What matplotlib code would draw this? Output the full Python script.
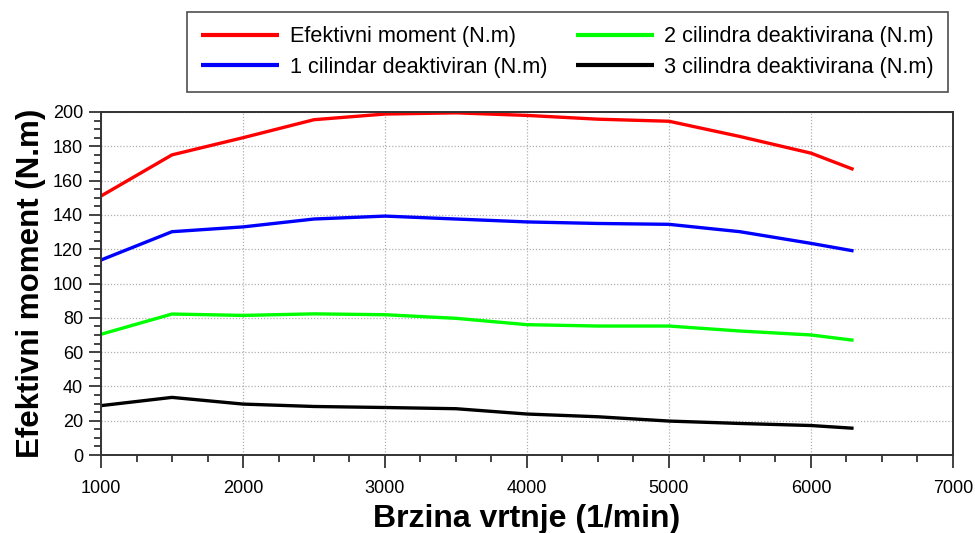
import matplotlib
matplotlib.use("Agg")
import matplotlib.pyplot as plt
from matplotlib.ticker import MultipleLocator

plt.rcParams['font.family'] = ['Liberation Sans', 'DejaVu Sans']

# brzina vrtnje (1/min)
rpm = [1000, 1500, 2000, 2500, 3000, 3500, 4000, 4500, 5000, 5500, 6000, 6300]

# momenti (N.m), procitano sa slike
efektivni = [151, 175, 185, 195.5, 198.8, 199.5, 198, 195.8, 194.6, 185.7, 176, 166.5]
jedan_cil = [113.7, 130.2, 133, 137.6, 139.3, 137.6, 135.9, 135, 134.5, 130.2, 123.4, 119]
dva_cil = [70.4, 82.2, 81.4, 82.3, 81.8, 79.7, 76, 75.2, 75.2, 72.3, 70, 66.9]
tri_cil = [28.8, 33.6, 29.7, 28.3, 27.7, 27, 23.9, 22.3, 19.8, 18.4, 17.2, 15.6]

labels = ["Efektivni moment (N.m)", "1 cilindar deaktiviran (N.m)",
          "2 cilindra deaktivirana (N.m)", "3 cilindra deaktivirana (N.m)"]
colors = ["#ff0000", "#0000ff", "#00ff00", "#000000"]

fig = plt.figure(figsize=(9.75, 5.33), dpi=100)
ax = fig.add_axes([0.1036, 0.1463, 0.8738, 0.6436])

lines = []
for ys, lab, col in zip([efektivni, jedan_cil, dva_cil, tri_cil], labels, colors):
    ln, = ax.plot(rpm, ys, color=col, lw=2.4, label=lab, solid_capstyle='butt')
    lines.append(ln)

ax.set_xlim(1000, 7000)
ax.set_ylim(0, 200)
ax.xaxis.set_major_locator(MultipleLocator(1000))
ax.xaxis.set_minor_locator(MultipleLocator(250))
ax.yaxis.set_major_locator(MultipleLocator(20))
ax.yaxis.set_minor_locator(MultipleLocator(5))
ax.tick_params(which='major', length=9, width=1.2, labelsize=13, color='#222222')
ax.tick_params(which='minor', length=5, width=1.2, color='#222222')
ax.tick_params(axis='x', pad=9)
ax.tick_params(axis='y', pad=4)
ax.grid(True, which='major', ls=(0, (1, 1.5)), color='#b0b0b0', lw=0.9)

for s in ax.spines.values():
    s.set_color('#333333')
    s.set_linewidth(1.4)

ax.set_xlabel("Brzina vrtnje (1/min)", fontsize=23, fontweight='bold', labelpad=5)
ax.set_ylabel("Efektivni moment (N.m)", fontsize=22.5, fontweight='bold', labelpad=5)

# legenda iznad grafa, dvije kolone
leg = fig.legend(lines, labels, ncol=2, loc='upper left',
                 bbox_to_anchor=(187 / 975, 1 - 12 / 533),
                 fontsize=15.6, frameon=True, fancybox=False,
                 edgecolor='#222222', handlelength=3.6, handletextpad=0.5,
                 columnspacing=1.3, labelspacing=0.45, borderaxespad=0,
                 borderpad=0.65)
leg.get_frame().set_linewidth(1.2)
for h in leg.get_lines():
    h.set_linewidth(3)

fig.savefig("out.png", dpi=100)
